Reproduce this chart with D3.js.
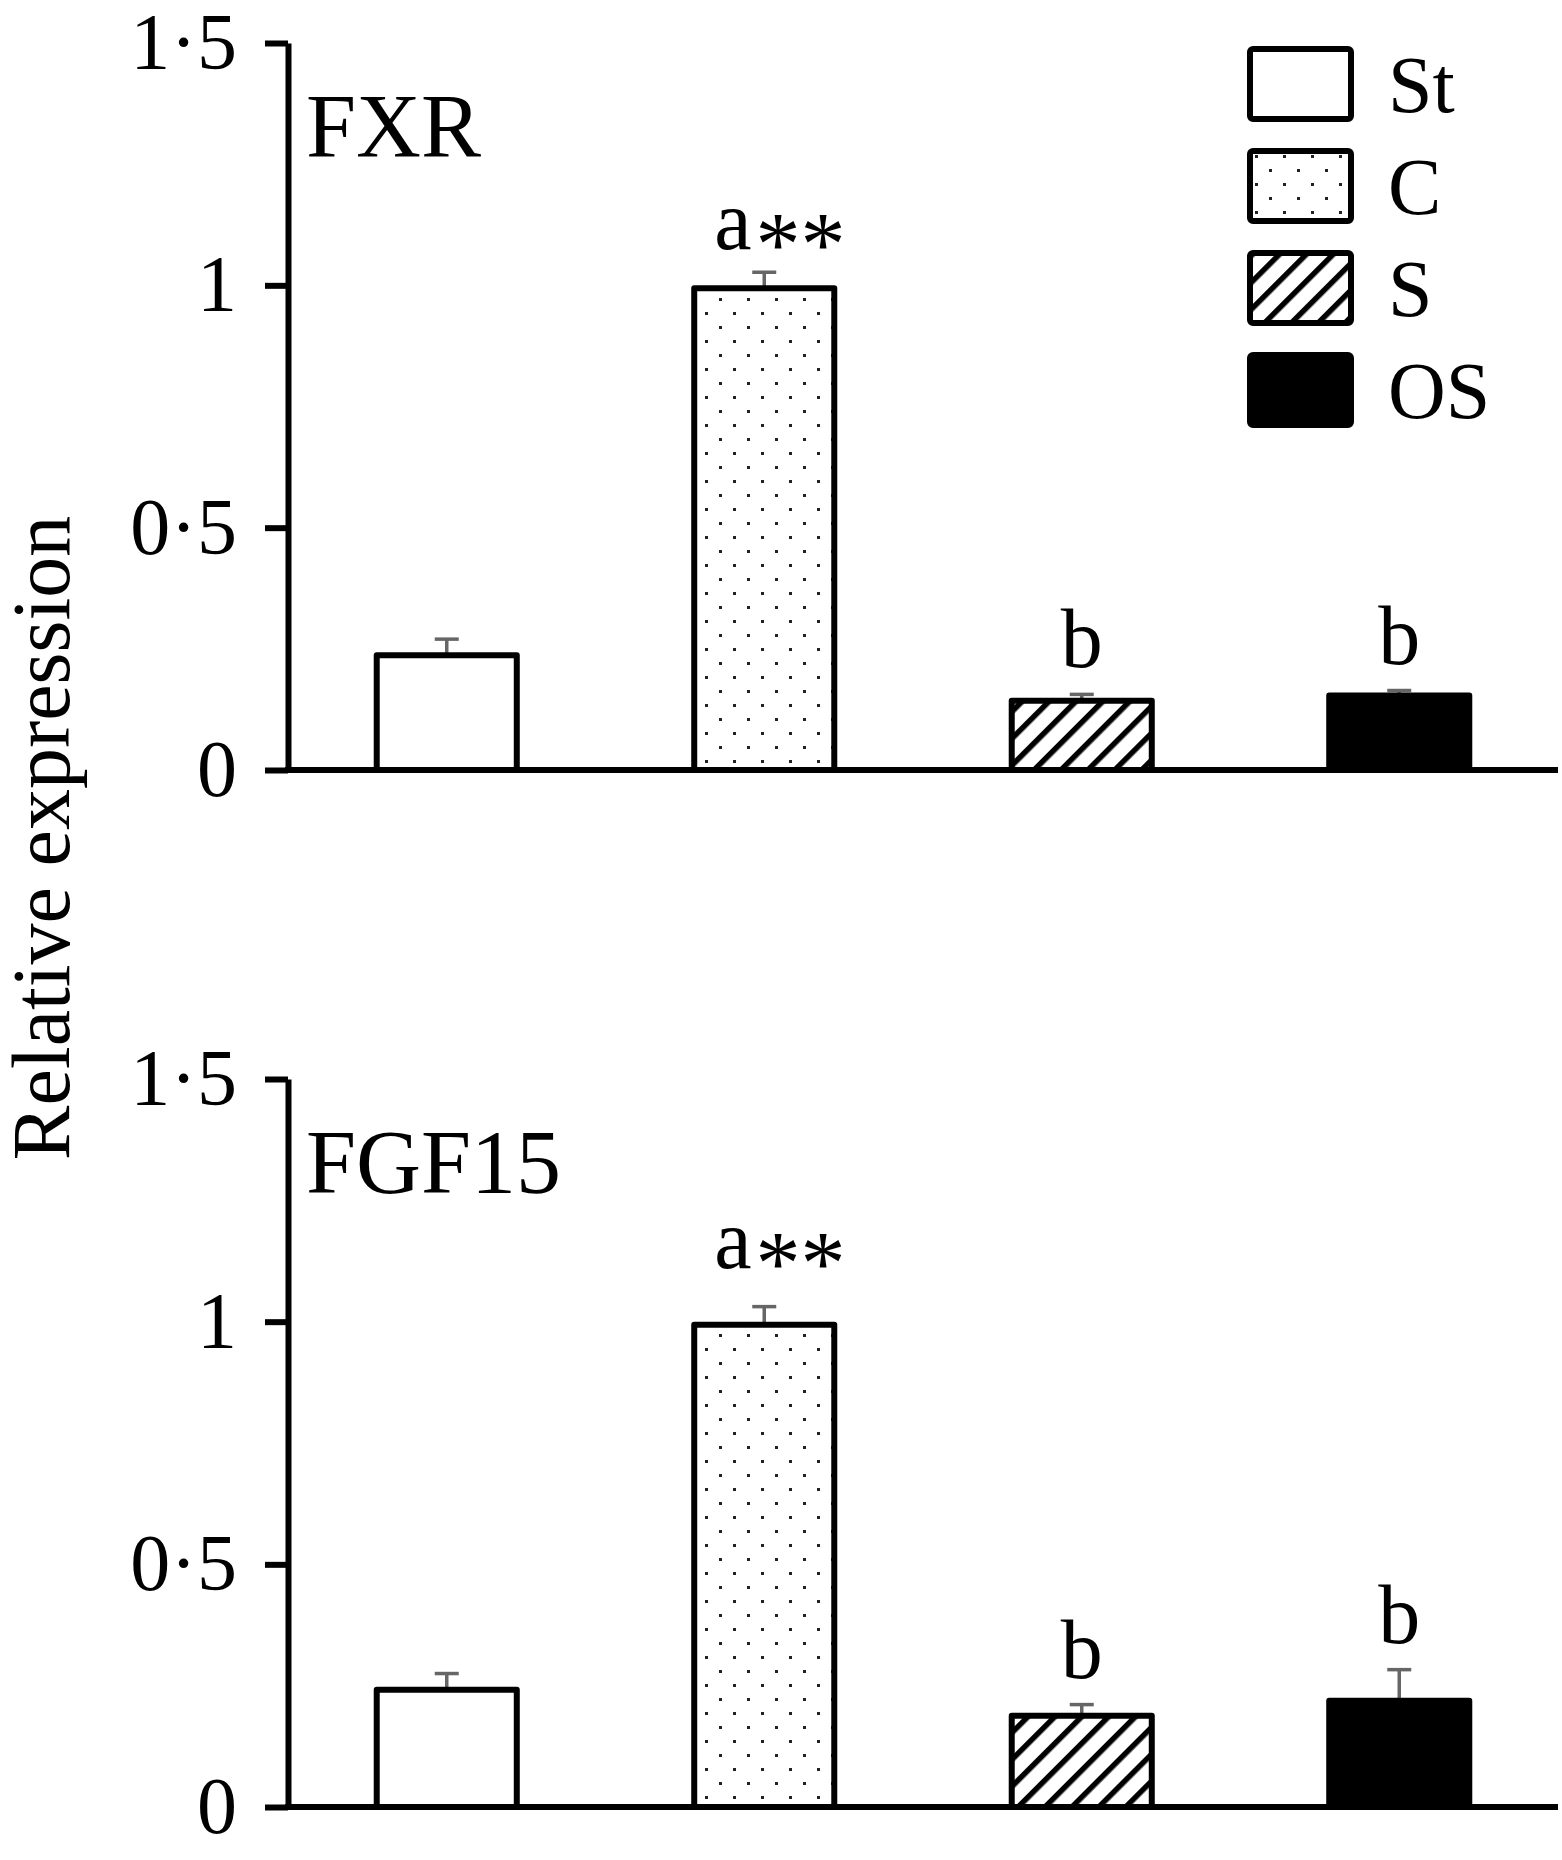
<!DOCTYPE html>
<html>
<head>
<meta charset="utf-8">
<script src="https://cdn.jsdelivr.net/npm/d3@7"></script>
<style>
  body { margin: 0; background: #fff; }
  text { font-family: "Liberation Serif", "Times New Roman", serif; fill: #000; }
</style>
</head>
<body>
<svg id="chart" width="1562" height="1860"></svg>
<script>
const groups = ["St", "C", "S", "OS"];
const yTicks = [0, 0.5, 1, 1.5];

const fxrMean = [0.243, 1.0, 0.149, 0.160];
const fxrErr = [0.027, 0.027, 0.007, 0.004];
const fgfMean = [0.248, 1.0, 0.194, 0.225];
const fgfErr = [0.027, 0.031, 0.017, 0.058];

const letters = ["", "a", "b", "b"];
const stars = ["", "**", "", ""];

const svg = d3.select("#chart");
svg.append("rect").attr("width", 1562).attr("height", 1860).attr("fill", "#fff");

// fill patterns
const defs = svg.append("defs");
const dots = defs.append("pattern")
    .attr("id", "dots")
    .attr("patternUnits", "userSpaceOnUse")
    .attr("width", 28).attr("height", 28);
dots.append("rect").attr("width", 28).attr("height", 28).attr("fill", "#fff");
dots.append("rect").attr("x", 5).attr("y", 4).attr("width", 3).attr("height", 3).attr("fill", "#222");
dots.append("rect").attr("x", 19).attr("y", 18).attr("width", 3).attr("height", 3).attr("fill", "#222");

const hatch = defs.append("pattern")
    .attr("id", "hatch")
    .attr("patternUnits", "userSpaceOnUse")
    .attr("width", 19).attr("height", 19)
    .attr("patternTransform", "rotate(45)");
hatch.append("rect").attr("width", 19).attr("height", 19).attr("fill", "#fff");
hatch.append("rect").attr("width", 5.5).attr("height", 19).attr("fill", "#000");

const fills = {St: "#fff", C: "url(#dots)", S: "url(#hatch)", OS: "#000"};

const x = d3.scaleBand()
    .domain(groups)
    .range([288, 1558])
    .paddingInner(0.54)
    .paddingOuter(0.27);

const panels = [
    {name: "FXR", mean: fxrMean, err: fxrErr, range: [770, 43], aGap: 23},
    {name: "FGF15", mean: fgfMean, err: fgfErr, range: [1807, 1079], aGap: 39}
];

panels.forEach(drawPanel);
drawLegend();

//y axis title, shared by both panels
svg.append("text")
    .attr("transform", "translate(69,838) rotate(-90)")
    .attr("text-anchor", "middle")
    .attr("font-size", 82)
    .text("Relative expression");

function drawPanel(p) {
    let y = d3.scaleLinear().domain([0, 1.5]).range(p.range);
    let g = svg.append("g");
    let rows = groups.map((k, i) => ({key: k, mean: p.mean[i], err: p.err[i], letter: letters[i], star: stars[i]}));
    let cx = d => x(d.key) + x.bandwidth() / 2;

    //error bars go first so the bar outline sits over the stem
    let eb = g.selectAll(".err").data(rows).join("g")
        .attr("class", "err")
        .attr("stroke", "#666")
        .attr("stroke-width", 3.5);
    eb.append("line")
        .attr("x1", cx).attr("x2", cx)
        .attr("y1", d => y(d.mean) + 3)
        .attr("y2", d => y(d.mean + d.err));
    eb.append("line")
        .attr("x1", d => cx(d) - 12).attr("x2", d => cx(d) + 12)
        .attr("y1", d => y(d.mean + d.err))
        .attr("y2", d => y(d.mean + d.err));

    //bars, outer edge of the outline at the value
    g.selectAll(".bar").data(rows).join("rect")
        .attr("class", "bar")
        .attr("x", d => x(d.key) + 3)
        .attr("width", x.bandwidth() - 6)
        .attr("y", d => y(d.mean) + 3)
        .attr("height", d => y(0) - y(d.mean) - 3)
        .attr("fill", d => fills[d.key])
        .attr("stroke", "#000")
        .attr("stroke-width", 6)
        .attr("stroke-linejoin", "round");

    //axes
    let axis = d3.axisLeft(y)
        .tickValues(yTicks)
        .tickSize(23)
        .tickSizeOuter(0)
        .tickPadding(28)
        .tickFormat(d => String(d).replace(".", "·"));
    let ax = g.append("g")
        .attr("transform", "translate(288,0)")
        .call(axis)
        .attr("font-family", null)
        .attr("font-size", 80);
    ax.selectAll("line, path").attr("stroke", "#000").attr("stroke-width", 6);
    ax.selectAll("text").attr("fill", "#000");

    g.append("line")
        .attr("x1", 285).attr("x2", 1558)
        .attr("y1", y(0)).attr("y2", y(0))
        .attr("stroke", "#000")
        .attr("stroke-width", 6);

    //significance letters
    let ann = g.selectAll(".ann").data(rows.filter(d => d.letter)).join("text")
        .attr("class", "ann")
        .attr("font-size", 84)
        .attr("text-anchor", d => d.star ? "start" : "middle")
        .attr("x", d => d.star ? cx(d) - 50 : cx(d))
        .attr("y", d => y(d.mean + d.err) - (d.star ? p.aGap : 27))
        .text(d => d.letter);
    ann.filter(d => d.star).append("tspan")
        .attr("font-size", 90)
        .attr("dx", 4)
        .attr("dy", 26)
        .text(d => d.star);

    g.append("text")
        .attr("x", 306)
        .attr("y", y(1.5) + 114)
        .attr("font-size", 90)
        .text(p.name);
}

function drawLegend() {
    let lg = svg.append("g").attr("class", "legend");
    let item = lg.selectAll("g").data(groups).join("g")
        .attr("transform", (d, i) => `translate(1250,${49 + i * 102})`);
    item.append("rect")
        .attr("width", 101)
        .attr("height", 70)
        .attr("rx", 3)
        .attr("fill", d => fills[d])
        .attr("stroke", "#000")
        .attr("stroke-width", 6);
    item.append("text")
        .attr("x", 138)
        .attr("y", 35)
        .attr("dy", "0.35em")
        .attr("font-size", 80)
        .text(d => d);
}
</script>
</body>
</html>
